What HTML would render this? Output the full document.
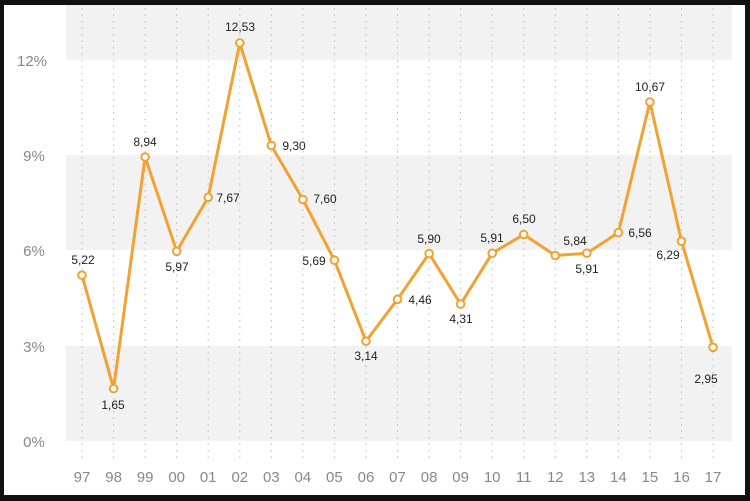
<!DOCTYPE html>
<html><head><meta charset="utf-8"><style>
html,body{margin:0;padding:0;background:#000;}
svg{display:block;font-family:"Liberation Sans",sans-serif;}
</style></head><body>
<svg width="750" height="501" viewBox="0 0 750 501">
<rect x="0" y="0" width="750" height="501" fill="#111"/>
<rect x="4" y="5" width="741" height="490" fill="#fff"/>
<g fill="#f2f2f2">
<rect x="66" y="5" width="666" height="55"/>
<rect x="66" y="155" width="666" height="95"/>
<rect x="66" y="346" width="666" height="95"/>
</g>
<g stroke="#bbb" stroke-width="1" stroke-dasharray="1.5,5">
<line x1="82" y1="8" x2="82" y2="460"/><line x1="113.6" y1="8" x2="113.6" y2="460"/><line x1="145.1" y1="8" x2="145.1" y2="460"/><line x1="176.7" y1="8" x2="176.7" y2="460"/><line x1="208.2" y1="8" x2="208.2" y2="460"/><line x1="239.8" y1="8" x2="239.8" y2="460"/><line x1="271.3" y1="8" x2="271.3" y2="460"/><line x1="302.9" y1="8" x2="302.9" y2="460"/><line x1="334.4" y1="8" x2="334.4" y2="460"/><line x1="366" y1="8" x2="366" y2="460"/><line x1="397.5" y1="8" x2="397.5" y2="460"/><line x1="429.1" y1="8" x2="429.1" y2="460"/><line x1="460.6" y1="8" x2="460.6" y2="460"/><line x1="492.2" y1="8" x2="492.2" y2="460"/><line x1="523.7" y1="8" x2="523.7" y2="460"/><line x1="555.3" y1="8" x2="555.3" y2="460"/><line x1="586.8" y1="8" x2="586.8" y2="460"/><line x1="618.4" y1="8" x2="618.4" y2="460"/><line x1="649.9" y1="8" x2="649.9" y2="460"/><line x1="681.5" y1="8" x2="681.5" y2="460"/><line x1="713" y1="8" x2="713" y2="460"/>
</g>
<g fill="#888" font-size="15" text-anchor="middle">
<text x="32" y="66">12%</text><text x="34" y="161">9%</text><text x="34" y="256">6%</text><text x="34" y="352">3%</text><text x="34" y="447">0%</text>
<text x="82" y="482">97</text><text x="113.6" y="482">98</text><text x="145.1" y="482">99</text><text x="176.7" y="482">00</text><text x="208.2" y="482">01</text><text x="239.8" y="482">02</text><text x="271.3" y="482">03</text><text x="302.9" y="482">04</text><text x="334.4" y="482">05</text><text x="366" y="482">06</text><text x="397.5" y="482">07</text><text x="429.1" y="482">08</text><text x="460.6" y="482">09</text><text x="492.2" y="482">10</text><text x="523.7" y="482">11</text><text x="555.3" y="482">12</text><text x="586.8" y="482">13</text><text x="618.4" y="482">14</text><text x="649.9" y="482">15</text><text x="681.5" y="482">16</text><text x="713" y="482">17</text>
</g>
<polyline fill="none" stroke="#f0a232" stroke-width="3" stroke-linejoin="round" points="82,275.2 113.6,388.6 145.1,157 176.7,251.3 208.2,197.3 239.8,42.9 271.3,145.5 302.9,199.5 334.4,260.2 366,341.2 397.5,299.3 429.1,253.6 460.6,304.1 492.2,253.2 523.7,234.5 555.3,255.5 586.8,253.2 618.4,232.6 649.9,102 681.5,241.2 713,347.3"/>
<g fill="#fff" stroke="#f0a232" stroke-width="2">
<circle cx="82" cy="275.2" r="3.8"/><circle cx="113.6" cy="388.6" r="3.8"/><circle cx="145.1" cy="157" r="3.8"/><circle cx="176.7" cy="251.3" r="3.8"/><circle cx="208.2" cy="197.3" r="3.8"/><circle cx="239.8" cy="42.9" r="3.8"/><circle cx="271.3" cy="145.5" r="3.8"/><circle cx="302.9" cy="199.5" r="3.8"/><circle cx="334.4" cy="260.2" r="3.8"/><circle cx="366" cy="341.2" r="3.8"/><circle cx="397.5" cy="299.3" r="3.8"/><circle cx="429.1" cy="253.6" r="3.8"/><circle cx="460.6" cy="304.1" r="3.8"/><circle cx="492.2" cy="253.2" r="3.8"/><circle cx="523.7" cy="234.5" r="3.8"/><circle cx="555.3" cy="255.5" r="3.8"/><circle cx="586.8" cy="253.2" r="3.8"/><circle cx="618.4" cy="232.6" r="3.8"/><circle cx="649.9" cy="102" r="3.8"/><circle cx="681.5" cy="241.2" r="3.8"/><circle cx="713" cy="347.3" r="3.8"/>
</g>
<g fill="#222" font-size="12" text-anchor="middle">
<text x="83" y="264">5,22</text><text x="113" y="409">1,65</text><text x="145" y="146">8,94</text><text x="177" y="271">5,97</text><text x="228" y="202">7,67</text><text x="240" y="31">12,53</text><text x="294" y="150">9,30</text><text x="325" y="203">7,60</text><text x="314" y="265">5,69</text><text x="366" y="360">3,14</text><text x="420" y="304">4,46</text><text x="429" y="243">5,90</text><text x="461" y="323">4,31</text><text x="492" y="242">5,91</text><text x="524" y="223">6,50</text><text x="575" y="245">5,84</text><text x="587" y="273">5,91</text><text x="640" y="237">6,56</text><text x="650" y="91">10,67</text><text x="668" y="259">6,29</text><text x="706" y="383">2,95</text>
</g>
</svg>
</body></html>
